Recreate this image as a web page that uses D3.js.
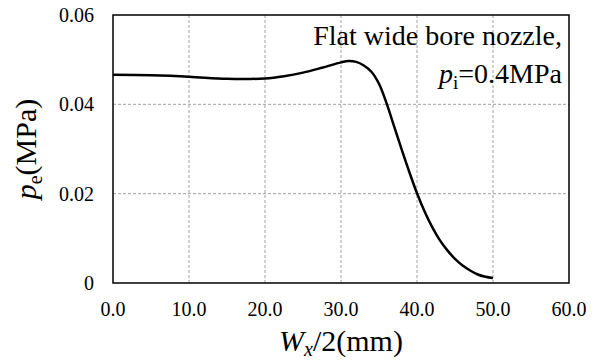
<!DOCTYPE html>
<html>
<head>
<meta charset="utf-8">
<script src="https://cdn.jsdelivr.net/npm/d3@7"></script>
<style>
  html, body { margin: 0; padding: 0; background: #fff; }
</style>
</head>
<body>
<svg width="598" height="361"></svg>
<script>
// half width Wx/2 (mm) and pressure pe (MPa)
const wx = [0, 5, 10, 15, 20, 22.5, 25, 27.5, 30, 31, 32, 33, 34, 35, 36, 37, 38, 39, 40,
            41, 42, 43, 44, 45, 46, 47, 48, 49, 50];
const pe = [0.0466, 0.0465, 0.0462, 0.0457, 0.0458, 0.0463, 0.0471, 0.0482, 0.0494, 0.0497, 0.0495,
            0.0487, 0.0473, 0.0446, 0.0402, 0.0350, 0.0298, 0.0248, 0.0201, 0.0160, 0.0125, 0.0096,
            0.0073, 0.0054, 0.0039, 0.0028, 0.0019, 0.0014, 0.0011];
const xTicks = [0, 10, 20, 30, 40, 50, 60];
const yTicks = [0, 0.02, 0.04, 0.06];
const yTickLabels = ["0", "0.02", "0.04", "0.06"];

const font = "'Liberation Serif', 'Times New Roman', 'DejaVu Serif', serif";
const svg = d3.select("svg").attr("font-family", font);
const pl = 113, pr = 569, pt = 15, pb = 283;

const x = d3.scaleLinear().domain([0, 60]).range([pl, pr]);
const y = d3.scaleLinear().domain([0, 0.06]).range([pb, pt]);

// grid
svg.append("g")
  .selectAll("line")
  .data(xTicks.slice(1, -1))
  .enter().append("line")
  .attr("x1", d => x(d)).attr("x2", d => x(d))
  .attr("y1", pt).attr("y2", pb)
  .attr("stroke", "#a0a0a0").attr("stroke-width", 1)
  .attr("stroke-dasharray", "3,2");

svg.append("g")
  .selectAll("line")
  .data(yTicks.slice(1, -1))
  .enter().append("line")
  .attr("x1", pl).attr("x2", pr)
  .attr("y1", d => y(d)).attr("y2", d => y(d))
  .attr("stroke", "#a0a0a0").attr("stroke-width", 1)
  .attr("stroke-dasharray", "3,2");

// frame
svg.append("rect")
  .attr("x", pl).attr("y", pt)
  .attr("width", pr - pl).attr("height", pb - pt)
  .attr("fill", "none").attr("stroke", "#000").attr("stroke-width", 1.5);

// tick labels
svg.append("g")
  .selectAll("text")
  .data(xTicks)
  .enter().append("text")
  .attr("x", d => x(d)).attr("y", 316)
  .attr("text-anchor", "middle")
  .attr("font-size", 20)
  .text(d => d.toFixed(1));

svg.append("g")
  .selectAll("text")
  .data(yTicks)
  .enter().append("text")
  .attr("x", 94).attr("y", d => y(d) + 7)
  .attr("text-anchor", "end")
  .attr("font-size", 20)
  .text((d, i) => yTickLabels[i]);

// curve
const line = d3.line()
  .x((d, i) => x(wx[i]))
  .y(d => y(d))
  .curve(d3.curveCatmullRom.alpha(0.5));

svg.append("path")
  .datum(pe)
  .attr("d", line)
  .attr("fill", "none")
  .attr("stroke", "#000")
  .attr("stroke-width", 2.5);

// axis titles
const xt = svg.append("text")
  .attr("x", (pl + pr) / 2).attr("y", 351)
  .attr("text-anchor", "middle")
  .attr("font-size", 30);
xt.append("tspan").attr("font-style", "italic").text("W");
xt.append("tspan").attr("font-style", "italic").attr("font-size", 20).attr("dy", 5).text("x");
xt.append("tspan").attr("dy", -5).text("/2(mm)");

const yt = svg.append("text")
  .attr("transform", `translate(36,${(pt + pb) / 2}) rotate(-90)`)
  .attr("text-anchor", "middle")
  .attr("font-size", 30);
yt.append("tspan").attr("font-style", "italic").text("p");
yt.append("tspan").attr("font-size", 20).attr("dy", 6).text("e");
yt.append("tspan").attr("dy", -6).text("(MPa)");

// annotation
svg.append("text")
  .attr("x", 562).attr("y", 45)
  .attr("text-anchor", "end")
  .attr("font-size", 28)
  .text("Flat wide bore nozzle,");

const note = svg.append("text")
  .attr("x", 562).attr("y", 83)
  .attr("text-anchor", "end")
  .attr("font-size", 28);
note.append("tspan").attr("font-style", "italic").text("p");
note.append("tspan").attr("font-size", 19).attr("dy", 6).text("i");
note.append("tspan").attr("dy", -6).text("=0.4MPa");
</script>
</body>
</html>
